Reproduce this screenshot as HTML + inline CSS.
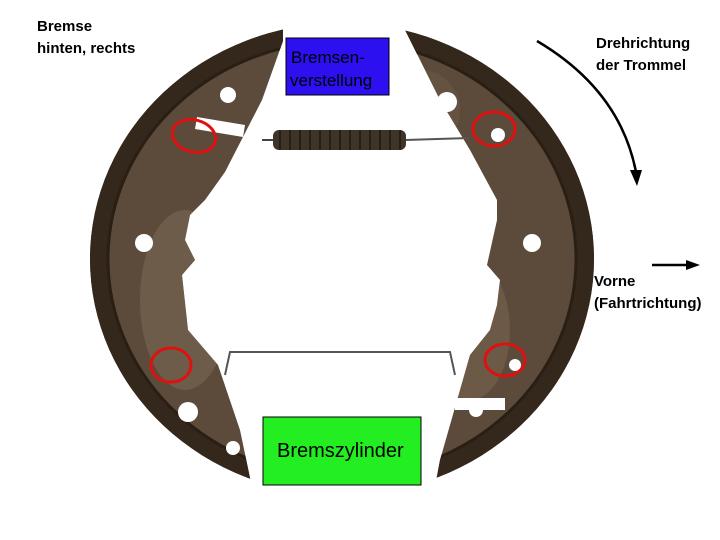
<!DOCTYPE html>
<html><head><meta charset="utf-8"><style>
body{margin:0;background:#fff;width:720px;height:540px;overflow:hidden}
svg{display:block}
text{font-family:"Liberation Sans",sans-serif;fill:#000}
.b{font-weight:bold}
</style></head><body>
<svg width="720" height="540" viewBox="0 0 720 540">
<defs>
<clipPath id="ell"><ellipse cx="342" cy="259" rx="252" ry="236"/></clipPath>
<clipPath id="shoes">
<path d="M0,0 L283,0 L283,41 L262,100 L225,172 L205,200 L190,215 L185,240 L195,260 L182,275 L188,330 L218,365 L240,430 L263,540 L0,540 Z"/>
<path d="M390,0 L720,0 L720,540 L425,540 L440,460 L470,355 L490,330 L497,305 L500,280 L487,265 L497,220 L497,200 L470,150 L440,100 Z"/>
</clipPath>
</defs>
<g clip-path="url(#ell)">
<g clip-path="url(#shoes)">
<rect x="0" y="0" width="720" height="540" fill="#5c4b3b"/>
<ellipse cx="185" cy="300" rx="45" ry="90" fill="#7a6755" opacity="0.6"/>
<ellipse cx="470" cy="330" rx="40" ry="70" fill="#76634f" opacity="0.6"/>
<ellipse cx="420" cy="110" rx="40" ry="40" fill="#6e5b47" opacity="0.5"/>
<ellipse cx="342" cy="259" rx="244" ry="228" fill="none" stroke="#34271b" stroke-width="18"/>
<ellipse cx="342" cy="259" rx="234" ry="218" fill="none" stroke="#2a1f15" stroke-width="3"/>
</g>
</g>
<!-- holes -->
<g fill="#fff">
<circle cx="228" cy="95" r="8"/><circle cx="144" cy="243" r="9"/><circle cx="233" cy="448" r="7"/>
<circle cx="410" cy="68" r="7"/><circle cx="532" cy="243" r="9"/><circle cx="476" cy="410" r="7"/>
<circle cx="447" cy="102" r="10"/><circle cx="188" cy="412" r="10"/>
<path d="M197,117 L245,125 L243,137 L195,129Z"/>
<path d="M455,398 L505,398 L505,410 L455,410Z"/>
<circle cx="498" cy="135" r="7"/><circle cx="515" cy="365" r="6"/>
</g>
<!-- springs -->
<line x1="262" y1="140" x2="275" y2="140" stroke="#444" stroke-width="2"/>
<line x1="405" y1="140" x2="470" y2="138" stroke="#555" stroke-width="2"/>
<rect x="273" y="130" width="133" height="20" rx="6" fill="#3e3428"/>
<g stroke="#1e1810" stroke-width="1.5">
<line x1="280" y1="130" x2="280" y2="150"/><line x1="290" y1="130" x2="290" y2="150"/><line x1="300" y1="130" x2="300" y2="150"/><line x1="310" y1="130" x2="310" y2="150"/><line x1="320" y1="130" x2="320" y2="150"/><line x1="330" y1="130" x2="330" y2="150"/><line x1="340" y1="130" x2="340" y2="150"/><line x1="350" y1="130" x2="350" y2="150"/><line x1="360" y1="130" x2="360" y2="150"/><line x1="370" y1="130" x2="370" y2="150"/><line x1="380" y1="130" x2="380" y2="150"/><line x1="390" y1="130" x2="390" y2="150"/><line x1="400" y1="130" x2="400" y2="150"/>
</g>
<path d="M225,375 L230,352 L450,352 L455,375" fill="none" stroke="#555" stroke-width="2"/>
<!-- red circles -->
<g fill="none" stroke="#e01010" stroke-width="3">
<ellipse cx="194" cy="136" rx="22" ry="16" transform="rotate(15 194 136)"/>
<ellipse cx="494" cy="129" rx="21" ry="17"/>
<ellipse cx="171" cy="365" rx="20" ry="17"/>
<ellipse cx="505" cy="360" rx="20" ry="16"/>
</g>
<!-- label boxes -->
<rect x="286" y="38" width="103" height="57" fill="#2d10f0" stroke="#000" stroke-width="1"/>
<text x="291" y="63" font-size="17">Bremsen-</text>
<text x="290" y="86" font-size="17">verstellung</text>
<rect x="263" y="417" width="158" height="68" fill="#22ee22" stroke="#000" stroke-width="1"/>
<text x="277" y="457" font-size="20">Bremszylinder</text>
<!-- texts -->
<text class="b" x="37" y="31" font-size="15">Bremse</text>
<text class="b" x="37" y="53" font-size="15">hinten, rechts</text>
<text class="b" x="596" y="48" font-size="15">Drehrichtung</text>
<text class="b" x="596" y="70" font-size="15">der Trommel</text>
<text class="b" x="594" y="286" font-size="15">Vorne</text>
<text class="b" x="594" y="308" font-size="15">(Fahrtrichtung)</text>
<!-- arrows -->
<path d="M537,41 Q620,90 636,172" fill="none" stroke="#000" stroke-width="2.5"/>
<path d="M630,170 L642,170 L637,186 Z" fill="#000"/>
<line x1="652" y1="265" x2="690" y2="265" stroke="#000" stroke-width="2.5"/>
<path d="M686,260 L700,265 L686,270 Z" fill="#000"/>
</svg>
</body></html>
